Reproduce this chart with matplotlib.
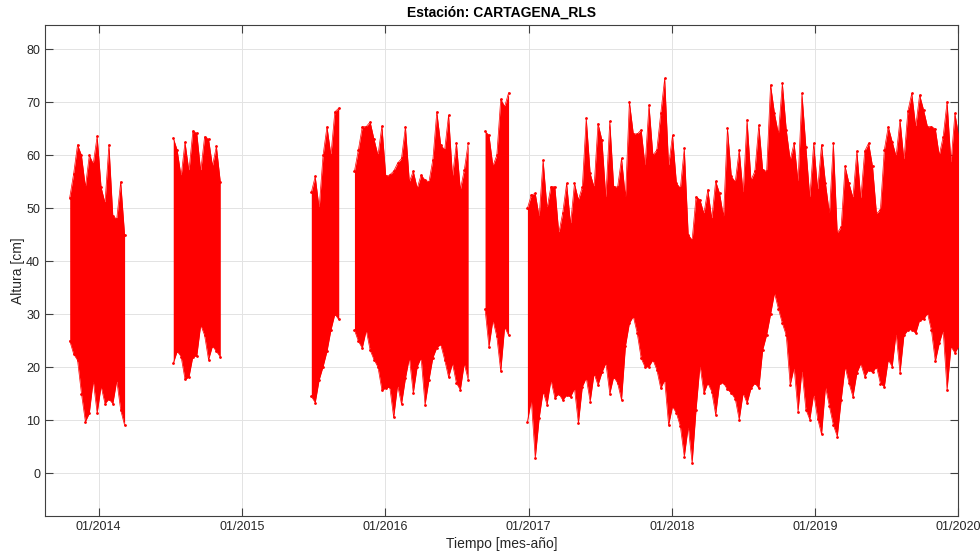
import matplotlib
matplotlib.use("Agg")
import matplotlib.pyplot as plt
import matplotlib.dates as mdates
import pandas as pd

plt.rcParams['font.family'] = ['Liberation Sans', 'DejaVu Sans']

# envelope of the hourly series, read every 10 days (high / low water per window)
seg1_start = '2013-10-19'
seg1_hi = [52, 56.5, 62, 60, 54, 60, 58.4, 63.6, 54, 51, 62, 48.5, 48, 55, 45]
seg1_lo = [25, 22.5, 21.3, 15, 9.7, 11.3, 17.5, 11.3, 16.4, 13.1, 14, 13.1, 17.5, 11.9, 9]

seg2_start = '2014-07-10'
seg2_hi = [63.3, 61, 56, 62.5, 57, 64.6, 64.2, 57, 63.5, 63.1, 58, 61.7, 55]
seg2_lo = [20.7, 23, 22, 17.7, 18.1, 22, 22.1, 28, 26, 21.4, 24, 23, 21.9]

seg3_start = '2015-06-27'
seg3_hi = [53, 56, 50, 60, 65.4, 60, 68.2, 68.9]
seg3_lo = [14.5, 13.3, 17.6, 20.1, 23, 27, 30, 29]

seg4_start = '2015-10-15'
seg4_hi = [57, 61, 65.4, 65.4, 66.3, 63, 60, 65.5, 56, 56.3, 57, 58.5, 59.4, 65.4, 55,
           57, 53.8, 56.3, 55.3, 55, 59.2, 68.2, 62, 61, 67.6, 56, 62.3, 53.5, 57.2, 62.3]
seg4_lo = [27, 24.9, 23.6, 27, 23.2, 21.4, 20, 15.7, 16, 16.3, 10.5, 16.6, 13, 17.9, 21.8,
           15.1, 20.1, 21.8, 12.9, 17.6, 21.8, 23.7, 24.3, 21.4, 18.1, 20.7, 17, 15.7, 20.7, 17.6]

seg5_start = '2016-09-12'
seg5_hi = [64.5, 63.8, 58, 60, 70.6, 69.2, 71.8]
seg5_lo = [31, 23.8, 28.9, 25.8, 19.2, 27.6, 26]

seg6_start = '2016-12-29'
seg6_hi = [50, 52.5, 52.8, 48.4, 59.1, 50, 54.1, 54.1, 45.3, 49.1,
           54.7, 47, 54.7, 51.6, 54, 67, 56.6, 54, 66, 62.9,
           52, 66.4, 54.1, 54, 59.4, 52, 70.1, 64.1, 64, 64.8,
           58, 69.5, 60, 61, 67.9, 74.5, 58, 63.8, 54.7, 53.8,
           61.3, 45, 44, 52.2, 51.6, 49, 53.5, 48, 55.1, 52.8,
           48.4, 65.1, 56, 55, 61, 52.8, 66.7, 55.3, 57, 65.7,
           57.2, 57, 73.3, 67.9, 64, 73.6, 64.8, 59.1, 62.3, 55,
           71.7, 61.6, 52, 62.3, 53.5, 62, 54.7, 49, 62.3, 45.3,
           46.5, 57.9, 54.7, 52, 60.8, 51.8, 60.8, 62.3, 57.9, 49,
           49.7, 61, 65.4, 62.6, 59.8, 66.7, 59.1, 68.3, 71.7, 65.4,
           71.4, 68.6, 65.4, 65.4, 65, 60, 63.5, 70.1, 58.5, 67.9, 63.5]
seg6_lo = [9.7, 13.8, 2.8, 10.4, 15.4, 12.9, 17.6, 14.2, 15, 13.8,
           14.7, 14.4, 16, 9.4, 16.3, 18, 13.5, 18.8, 16.6, 19,
           20.8, 15, 18.2, 17, 13.8, 24, 28.3, 29.6, 26.4, 21.7,
           20, 20.1, 21.4, 19.5, 16, 17.6, 9.1, 12.6, 11.3, 8.8,
           3.1, 8.8, 1.9, 12, 20.4, 15.1, 17, 15.4, 11, 17,
           17, 15.8, 15.1, 14, 10.1, 15.1, 13.2, 16, 17, 16,
           23.3, 26.1, 30, 34, 31, 28.3, 26, 16.6, 20, 11.6,
           19.5, 12, 10.1, 15, 10.3, 7.3, 16.3, 12.6, 9.1, 6.9,
           13.8, 20.1, 17, 14.4, 18.9, 20.7, 18.2, 19.5, 19, 20.1,
           16.9, 16.3, 21.4, 20.1, 26.4, 18.9, 26, 27, 27.1, 26.4,
           28.9, 29, 30.2, 27, 21.1, 24.5, 27, 15.7, 23.9, 22.7, 24]

segments = [
    (seg1_start, seg1_hi, seg1_lo),
    (seg2_start, seg2_hi, seg2_lo),
    (seg3_start, seg3_hi, seg3_lo),
    (seg4_start, seg4_hi, seg4_lo),
    (seg5_start, seg5_hi, seg5_lo),
    (seg6_start, seg6_hi, seg6_lo),
]

year_ticks = ['2014-01-01', '2015-01-01', '2016-01-01', '2017-01-01',
              '2018-01-01', '2019-01-01', '2020-01-01']
y_ticks = [0, 10, 20, 30, 40, 50, 60, 70, 80]

fig = plt.figure(figsize=(9.8, 5.54), dpi=100)
ax = fig.add_axes([0.0459, 0.0686, 0.9317, 0.8863])

for start, hi, lo in segments:
    t = pd.date_range(start, periods=len(hi), freq='10D')
    ax.fill_between(t, lo, hi, color='#ff0000', lw=0, zorder=3)
    ax.plot(t, hi, '.-', color='#ff0000', lw=0.5, ms=2, zorder=4)
    ax.plot(t, lo, '.-', color='#ff0000', lw=0.5, ms=2, zorder=4)

ax.set_xlim(pd.Timestamp('2013-08-17'), pd.Timestamp('2020-01-01'))
ax.set_ylim(-8.1, 84.6)
ax.set_xticks(pd.to_datetime(year_ticks))
ax.xaxis.set_major_formatter(mdates.DateFormatter('%m/%Y'))
ax.set_yticks(y_ticks)

ax.grid(True, color='#e3e3e3', lw=0.7, zorder=0)
ax.set_axisbelow(True)
ax.tick_params(direction='in', length=6, width=0.8, colors='#404040',
               labelcolor='#262626', labelsize=9, top=True, right=True)
for sp in ax.spines.values():
    sp.set_color('#404040')
    sp.set_linewidth(0.8)

ax.set_title('Estación: CARTAGENA_RLS', fontsize=10, fontweight='bold',
             color='#000000', pad=6)
ax.set_xlabel('Tiempo [mes-año]', fontsize=10, color='#262626', labelpad=3)
ax.set_ylabel('Altura [cm]', fontsize=10, color='#262626', labelpad=1)

fig.savefig('out.png', dpi=100)
